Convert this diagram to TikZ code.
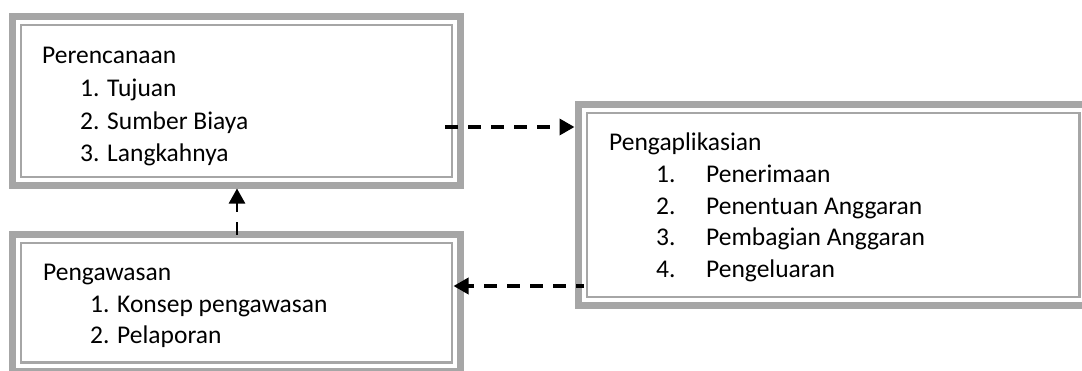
\documentclass[tikz,border=0pt]{standalone}
\usepackage{fontspec}
\setmainfont{Carlito}
\usetikzlibrary{arrows.meta}
\definecolor{bordergray}{RGB}{166,166,166}
\tikzset{
  outerbox/.style={draw=bordergray, line width=7pt, rectangle, inner sep=0pt, outer sep=0pt, anchor=north west},
  innerline/.style={draw=bordergray, line width=2.5pt},
  txt/.style={anchor=base west, inner sep=0pt, font=\fontsize{25.5}{30}\selectfont, text=black},
  conn/.style={draw=black, line width=3.5pt, dash pattern=on 13pt off 10pt, -{Triangle[length=15pt,width=16pt]}},
}
\begin{document}
\begin{tikzpicture}[x=1pt,y=-1pt]
\useasboundingbox (0,0) rectangle (1082,370);
\clip (0,0) rectangle (1082,370);
% boxes (thick outer line, thin inner line)
\node[outerbox, minimum width=448pt, minimum height=169pt] (box1) at (12.5,16.5) {};
\draw[innerline] ([shift={(8.5,8.5)}]box1.north west) rectangle ([shift={(-8.5,-8.5)}]box1.south east);
\node[outerbox, minimum width=509.5pt, minimum height=201pt] (box2) at (578.5,104.5) {};
\draw[innerline] ([shift={(8.5,8.5)}]box2.north west) rectangle ([shift={(-8.5,-8.5)}]box2.south east);
\node[outerbox, minimum width=448pt, minimum height=136.5pt] (box3) at (12.5,234.5) {};
\draw[innerline] ([shift={(8.5,8.5)}]box3.north west) rectangle ([shift={(-8.5,-8.5)}]box3.south east);
% texts
\node[txt] (t1) at (42,63) {Perencanaan};
\node[txt] (t1a) at (80,96) {1. Tujuan};
\node[txt] (t1b) at (80,129) {2. Sumber Biaya};
\node[txt] (t1c) at (80,161) {3. Langkahnya};
\node[txt] (t2) at (609,150) {Pengaplikasian};
\node[txt] (t2an) at (656,182) {1.};
\node[txt] (t2a) at (706,182) {Penerimaan};
\node[txt] (t2bn) at (656,214) {2.};
\node[txt] (t2b) at (706,214) {Penentuan Anggaran};
\node[txt] (t2cn) at (656,245) {3.};
\node[txt] (t2c) at (706,245) {Pembagian Anggaran};
\node[txt] (t2dn) at (656,277) {4.};
\node[txt] (t2d) at (706,277) {Pengeluaran};
\node[txt] (t3) at (43,280) {Pengawasan};
\node[txt] (t3a) at (90,312) {1. Konsep pengawasan};
\node[txt] (t3b) at (90,343) {2. Pelaporan};
% connectors
\coordinate (s1) at (445,127);
\draw[conn, shorten >=4pt] (s1) -- (s1 -| box2.west);
\coordinate (s2) at (237,0);
\draw[conn, line width=2.5pt, shorten >=3pt] (s2 |- box3.north) -- (s2 |- box1.south);
\coordinate (s3) at (0,286);
\draw[conn, dash phase=5pt, shorten <=-5pt, shorten >=-7pt] (s3 -| box2.west) -- (s3 -| box3.east);
\end{tikzpicture}
\end{document}
